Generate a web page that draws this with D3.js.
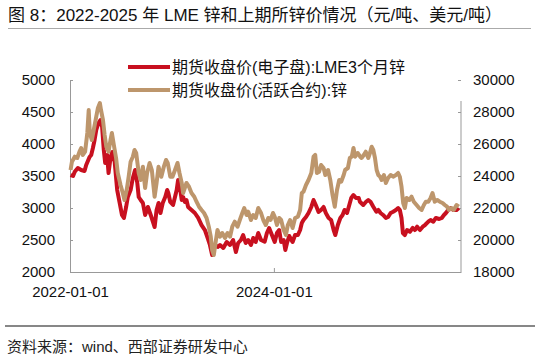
<!DOCTYPE html>
<html><head><meta charset="utf-8">
<script src="https://cdn.jsdelivr.net/npm/d3@7"></script>
<style>
html,body{margin:0;padding:0;background:#fff;}
text{font-family:"Liberation Sans",Arial,"Noto Sans CJK SC",sans-serif;}
</style></head>
<body><svg id="c" width="539" height="361"></svg>
<script>
const titleText = "图 8：2022-2025 年 LME 锌和上期所锌价情况（元/吨、美元/吨）";
const sourceText = "资料来源：wind、西部证券研发中心";
const seriesNames = ["期货收盘价(电子盘):LME3个月锌", "期货收盘价(活跃合约):锌"];
const leftTicks = [2000, 2500, 3000, 3500, 4000, 4500, 5000];
const rightTicks = [18000, 20000, 22000, 24000, 26000, 28000, 30000];
const xTicks = ["2022-01-01", "2024-01-01"];
const xDomain = ["2022-01-01", "2025-11-01"];

const lmeDates = ["2022-01-03","2022-01-12","2022-01-18","2022-01-29","2022-02-10","2022-02-22","2022-02-28","2022-03-12","2022-03-18","2022-03-24","2022-03-30","2022-04-05","2022-04-13","2022-04-20","2022-04-26","2022-05-02","2022-05-07","2022-05-14","2022-05-19","2022-05-26","2022-06-01","2022-06-10","2022-06-19","2022-06-28","2022-07-06","2022-07-13","2022-07-21","2022-07-27","2022-08-06","2022-08-14","2022-08-22","2022-08-30","2022-09-04","2022-09-11","2022-09-19","2022-09-27","2022-10-07","2022-10-17","2022-10-25","2022-10-31","2022-11-07","2022-11-14","2022-11-21","2022-11-29","2022-12-08","2022-12-15","2022-12-19","2022-12-26","2023-01-05","2023-01-18","2023-01-23","2023-01-30","2023-02-05","2023-02-10","2023-02-16","2023-02-22","2023-02-28","2023-03-12","2023-03-24","2023-04-05","2023-04-17","2023-04-29","2023-05-09","2023-05-17","2023-05-25","2023-06-04","2023-06-14","2023-06-22","2023-07-04","2023-07-16","2023-07-28","2023-08-08","2023-08-18","2023-08-26","2023-09-05","2023-09-13","2023-09-22","2023-10-01","2023-10-11","2023-10-19","2023-10-28","2023-11-06","2023-11-16","2023-11-29","2023-12-07","2023-12-15","2023-12-25","2024-01-04","2024-01-12","2024-01-20","2024-01-27","2024-02-05","2024-02-11","2024-02-17","2024-02-25","2024-03-08","2024-03-17","2024-03-27","2024-04-04","2024-04-10","2024-04-16","2024-04-25","2024-05-04","2024-05-14","2024-05-22","2024-05-30","2024-06-09","2024-06-18","2024-06-27","2024-07-05","2024-07-15","2024-07-24","2024-08-02","2024-08-08","2024-08-17","2024-08-26","2024-09-03","2024-09-10","2024-09-19","2024-09-27","2024-10-04","2024-10-12","2024-10-21","2024-10-31","2024-11-04","2024-11-16","2024-11-26","2024-12-04","2024-12-12","2024-12-22","2025-01-02","2025-01-09","2025-01-17","2025-01-26","2025-02-05","2025-02-13","2025-02-22","2025-03-03","2025-03-13","2025-03-21","2025-03-27","2025-04-02","2025-04-07","2025-04-14","2025-04-22","2025-05-02","2025-05-12","2025-05-20","2025-05-28","2025-06-07","2025-06-17","2025-06-25","2025-07-07","2025-07-15","2025-07-25","2025-08-03","2025-08-15","2025-08-24","2025-09-01","2025-09-08","2025-09-16","2025-09-25","2025-10-04","2025-10-16","2025-10-24"];
const lmeValues = [3515,3500,3567,3625,3594,3578,3672,3797,3828,3938,4063,4219,4328,4375,4266,3906,3703,3828,3547,3781,3875,3719,3281,3078,2891,2844,3016,3172,3281,3469,3594,3391,3172,3125,3078,2891,3016,2891,2781,2703,2969,3078,2922,3078,3172,3281,3234,3094,3047,3281,3438,3313,3125,3172,3094,3125,3016,2969,2922,2844,2734,2656,2531,2422,2266,2422,2391,2422,2375,2469,2422,2500,2313,2453,2500,2578,2453,2500,2422,2531,2469,2609,2500,2473,2609,2688,2578,2469,2609,2656,2469,2500,2344,2453,2563,2469,2578,2578,2656,2766,2813,2859,2922,3016,3125,3047,2938,2969,3016,2922,2844,2813,2656,2578,2734,2844,2891,2969,2922,3047,3156,3203,3156,3156,3098,3047,3098,3125,3098,3020,2942,2969,2922,2891,2844,2859,2922,2942,2969,3000,2969,2844,2609,2578,2656,2630,2688,2656,2708,2656,2708,2734,2786,2813,2786,2844,2828,2844,2891,2922,2969,3000,2969,2969,3000];

const shfeDates = ["2022-01-03","2022-01-08","2022-01-18","2022-01-27","2022-02-04","2022-02-10","2022-02-16","2022-02-24","2022-03-04","2022-03-09","2022-03-13","2022-03-20","2022-03-27","2022-04-05","2022-04-11","2022-04-18","2022-04-22","2022-04-29","2022-05-05","2022-05-11","2022-05-19","2022-05-26","2022-05-31","2022-06-07","2022-06-15","2022-06-21","2022-07-01","2022-07-09","2022-07-15","2022-07-23","2022-07-30","2022-08-06","2022-08-14","2022-08-20","2022-08-26","2022-09-04","2022-09-11","2022-09-19","2022-09-27","2022-10-04","2022-10-13","2022-10-21","2022-10-31","2022-11-07","2022-11-14","2022-11-24","2022-12-03","2022-12-11","2022-12-17","2022-12-26","2023-01-03","2023-01-12","2023-01-21","2023-01-28","2023-02-05","2023-02-10","2023-02-16","2023-02-22","2023-03-03","2023-03-12","2023-03-22","2023-03-30","2023-04-08","2023-04-17","2023-04-26","2023-05-05","2023-05-13","2023-05-20","2023-05-25","2023-05-31","2023-06-06","2023-06-13","2023-06-22","2023-06-30","2023-07-10","2023-07-19","2023-07-28","2023-08-05","2023-08-14","2023-08-24","2023-09-01","2023-09-10","2023-09-17","2023-09-25","2023-10-01","2023-10-11","2023-10-19","2023-10-28","2023-11-06","2023-11-16","2023-11-24","2023-12-03","2023-12-12","2023-12-20","2023-12-29","2024-01-04","2024-01-12","2024-01-20","2024-01-27","2024-02-05","2024-02-13","2024-02-20","2024-02-28","2024-03-08","2024-03-17","2024-03-27","2024-04-04","2024-04-10","2024-04-16","2024-04-25","2024-05-04","2024-05-14","2024-05-22","2024-05-28","2024-06-03","2024-06-11","2024-06-18","2024-06-27","2024-07-03","2024-07-13","2024-07-21","2024-07-29","2024-08-06","2024-08-14","2024-08-22","2024-08-29","2024-09-07","2024-09-12","2024-09-22","2024-09-29","2024-10-06","2024-10-12","2024-10-18","2024-10-27","2024-11-05","2024-11-10","2024-11-18","2024-11-25","2024-12-04","2024-12-10","2024-12-16","2024-12-22","2024-12-28","2025-01-03","2025-01-09","2025-01-15","2025-01-21","2025-01-29","2025-02-05","2025-02-13","2025-02-22","2025-03-03","2025-03-13","2025-03-21","2025-03-27","2025-04-02","2025-04-08","2025-04-14","2025-04-20","2025-04-30","2025-05-08","2025-05-16","2025-05-26","2025-06-04","2025-06-13","2025-06-21","2025-06-28","2025-07-07","2025-07-15","2025-07-22","2025-07-30","2025-08-08","2025-08-17","2025-08-27","2025-09-04","2025-09-12","2025-09-19","2025-09-28","2025-10-06","2025-10-16","2025-10-24"];
const shfeValues = [24375,24894,25206,25125,25519,25750,25313,25519,26688,28125,26688,26250,26875,27706,28250,28563,28125,27500,26563,25831,25519,26250,26688,25938,25125,24188,23438,22938,22500,23125,23956,24894,25206,25625,25438,24188,23750,24581,23250,24188,24813,24375,22706,23563,24581,23956,24581,25000,24813,23956,23956,24375,24813,24188,23563,22938,23250,23563,23331,22938,22706,22394,22081,21875,21688,21375,20831,20206,19375,19063,19813,20625,20206,20438,20125,20438,20206,20831,21144,20831,21250,21688,22000,21563,21769,21250,21563,21375,22000,21688,21250,20938,21375,21250,21688,21456,20938,21375,21250,20625,20313,20938,21250,20750,21375,21456,21875,22938,23019,23438,23750,24188,25206,25313,24188,24269,24688,24500,24063,24375,23750,22813,22081,23125,23750,23644,24063,24375,24500,25125,25206,25750,25206,25438,25206,25125,25313,25519,25125,25438,25831,25625,25125,24375,24063,23956,23750,24063,23563,23875,24063,23956,24063,24188,23956,23331,22313,22000,22625,22500,22706,22394,22188,22000,21875,22188,22394,22394,22625,22938,22394,22500,22394,22313,22188,22081,21875,22000,21875,22188,22081];

const colors = ["#c8101f", "#bd966c"];

const parse = d3.utcParse("%Y-%m-%d");
const svg = d3.select("#c");
svg.append("rect").attr("width",539).attr("height",361).attr("fill","#fff");

const x = d3.scaleUtc().domain(xDomain.map(parse)).range([70, 461]);
const yL = d3.scaleLinear().domain([2000, 5000]).range([272, 80]);
const yR = d3.scaleLinear().domain([18000, 30000]).range([272, 80]);

// title
svg.append("text").attr("x", 8).attr("y", 21).attr("font-size", 17).attr("fill", "#111").text(titleText);
svg.append("line").attr("x1", 8).attr("x2", 531).attr("y1", 28.5).attr("y2", 28.5).attr("stroke", "#aaa").attr("stroke-width", 1);

// axes
const gL = svg.append("g").attr("transform", "translate(70,0)")
  .call(d3.axisLeft(yL).tickValues(leftTicks).tickSizeInner(-3).tickSizeOuter(0).tickPadding(15).tickFormat(d3.format("d")));
const gR = svg.append("g").attr("transform", "translate(461,0)")
  .call(d3.axisRight(yR).tickValues(rightTicks).tickSizeInner(-3).tickSizeOuter(0).tickPadding(12).tickFormat(d3.format("d")));
const gB = svg.append("g").attr("transform", "translate(0,272)")
  .call(d3.axisBottom(x).tickValues(xTicks.map(parse)).tickSizeInner(-4).tickSizeOuter(0).tickPadding(14).tickFormat(d3.utcFormat("%Y-%m-%d")));
gR.select(".domain").remove();
svg.append("line").attr("x1", 461).attr("x2", 461).attr("y1", 101).attr("y2", 272).attr("stroke", "#999");
[gL, gR, gB].forEach(g => {
  g.selectAll(".domain").attr("stroke", "#999");
  g.selectAll(".tick line").attr("stroke", "#999");
  g.selectAll("text").attr("font-size", 15).attr("fill", "#111")
    .style("font-family", '"Liberation Sans",Arial,sans-serif');
});

// series
const lme = lmeDates.map((d, i) => ({ date: parse(d), value: lmeValues[i] }));
const shfe = shfeDates.map((d, i) => ({ date: parse(d), value: shfeValues[i] }));
svg.append("path").datum(lme).attr("fill", "none").attr("stroke", colors[0]).attr("stroke-width", 4)
  .attr("stroke-linejoin", "round")
  .attr("d", d3.line().x(d => x(d.date)).y(d => yL(d.value)));
svg.append("path").datum(shfe).attr("fill", "none").attr("stroke", colors[1]).attr("stroke-width", 4)
  .attr("stroke-linejoin", "round")
  .attr("d", d3.line().x(d => x(d.date)).y(d => yR(d.value)));

// legend
const leg = svg.append("g");
seriesNames.forEach((name, i) => {
  const yy = 67 + i * 23;
  leg.append("line").attr("x1", 128).attr("x2", 170).attr("y1", yy).attr("y2", yy)
    .attr("stroke", colors[i]).attr("stroke-width", 4);
  leg.append("text").attr("x", 172).attr("y", yy).attr("dy", "0.35em").attr("font-size", 16)
    .attr("fill", "#111").text(name);
});

// footer
svg.append("line").attr("x1", 5).attr("x2", 535).attr("y1", 326).attr("y2", 326).attr("stroke", "#111").attr("stroke-width", 1.2);
svg.append("text").attr("x", 7).attr("y", 352).attr("font-size", 15).attr("fill", "#222").text(sourceText);
</script></body></html>
